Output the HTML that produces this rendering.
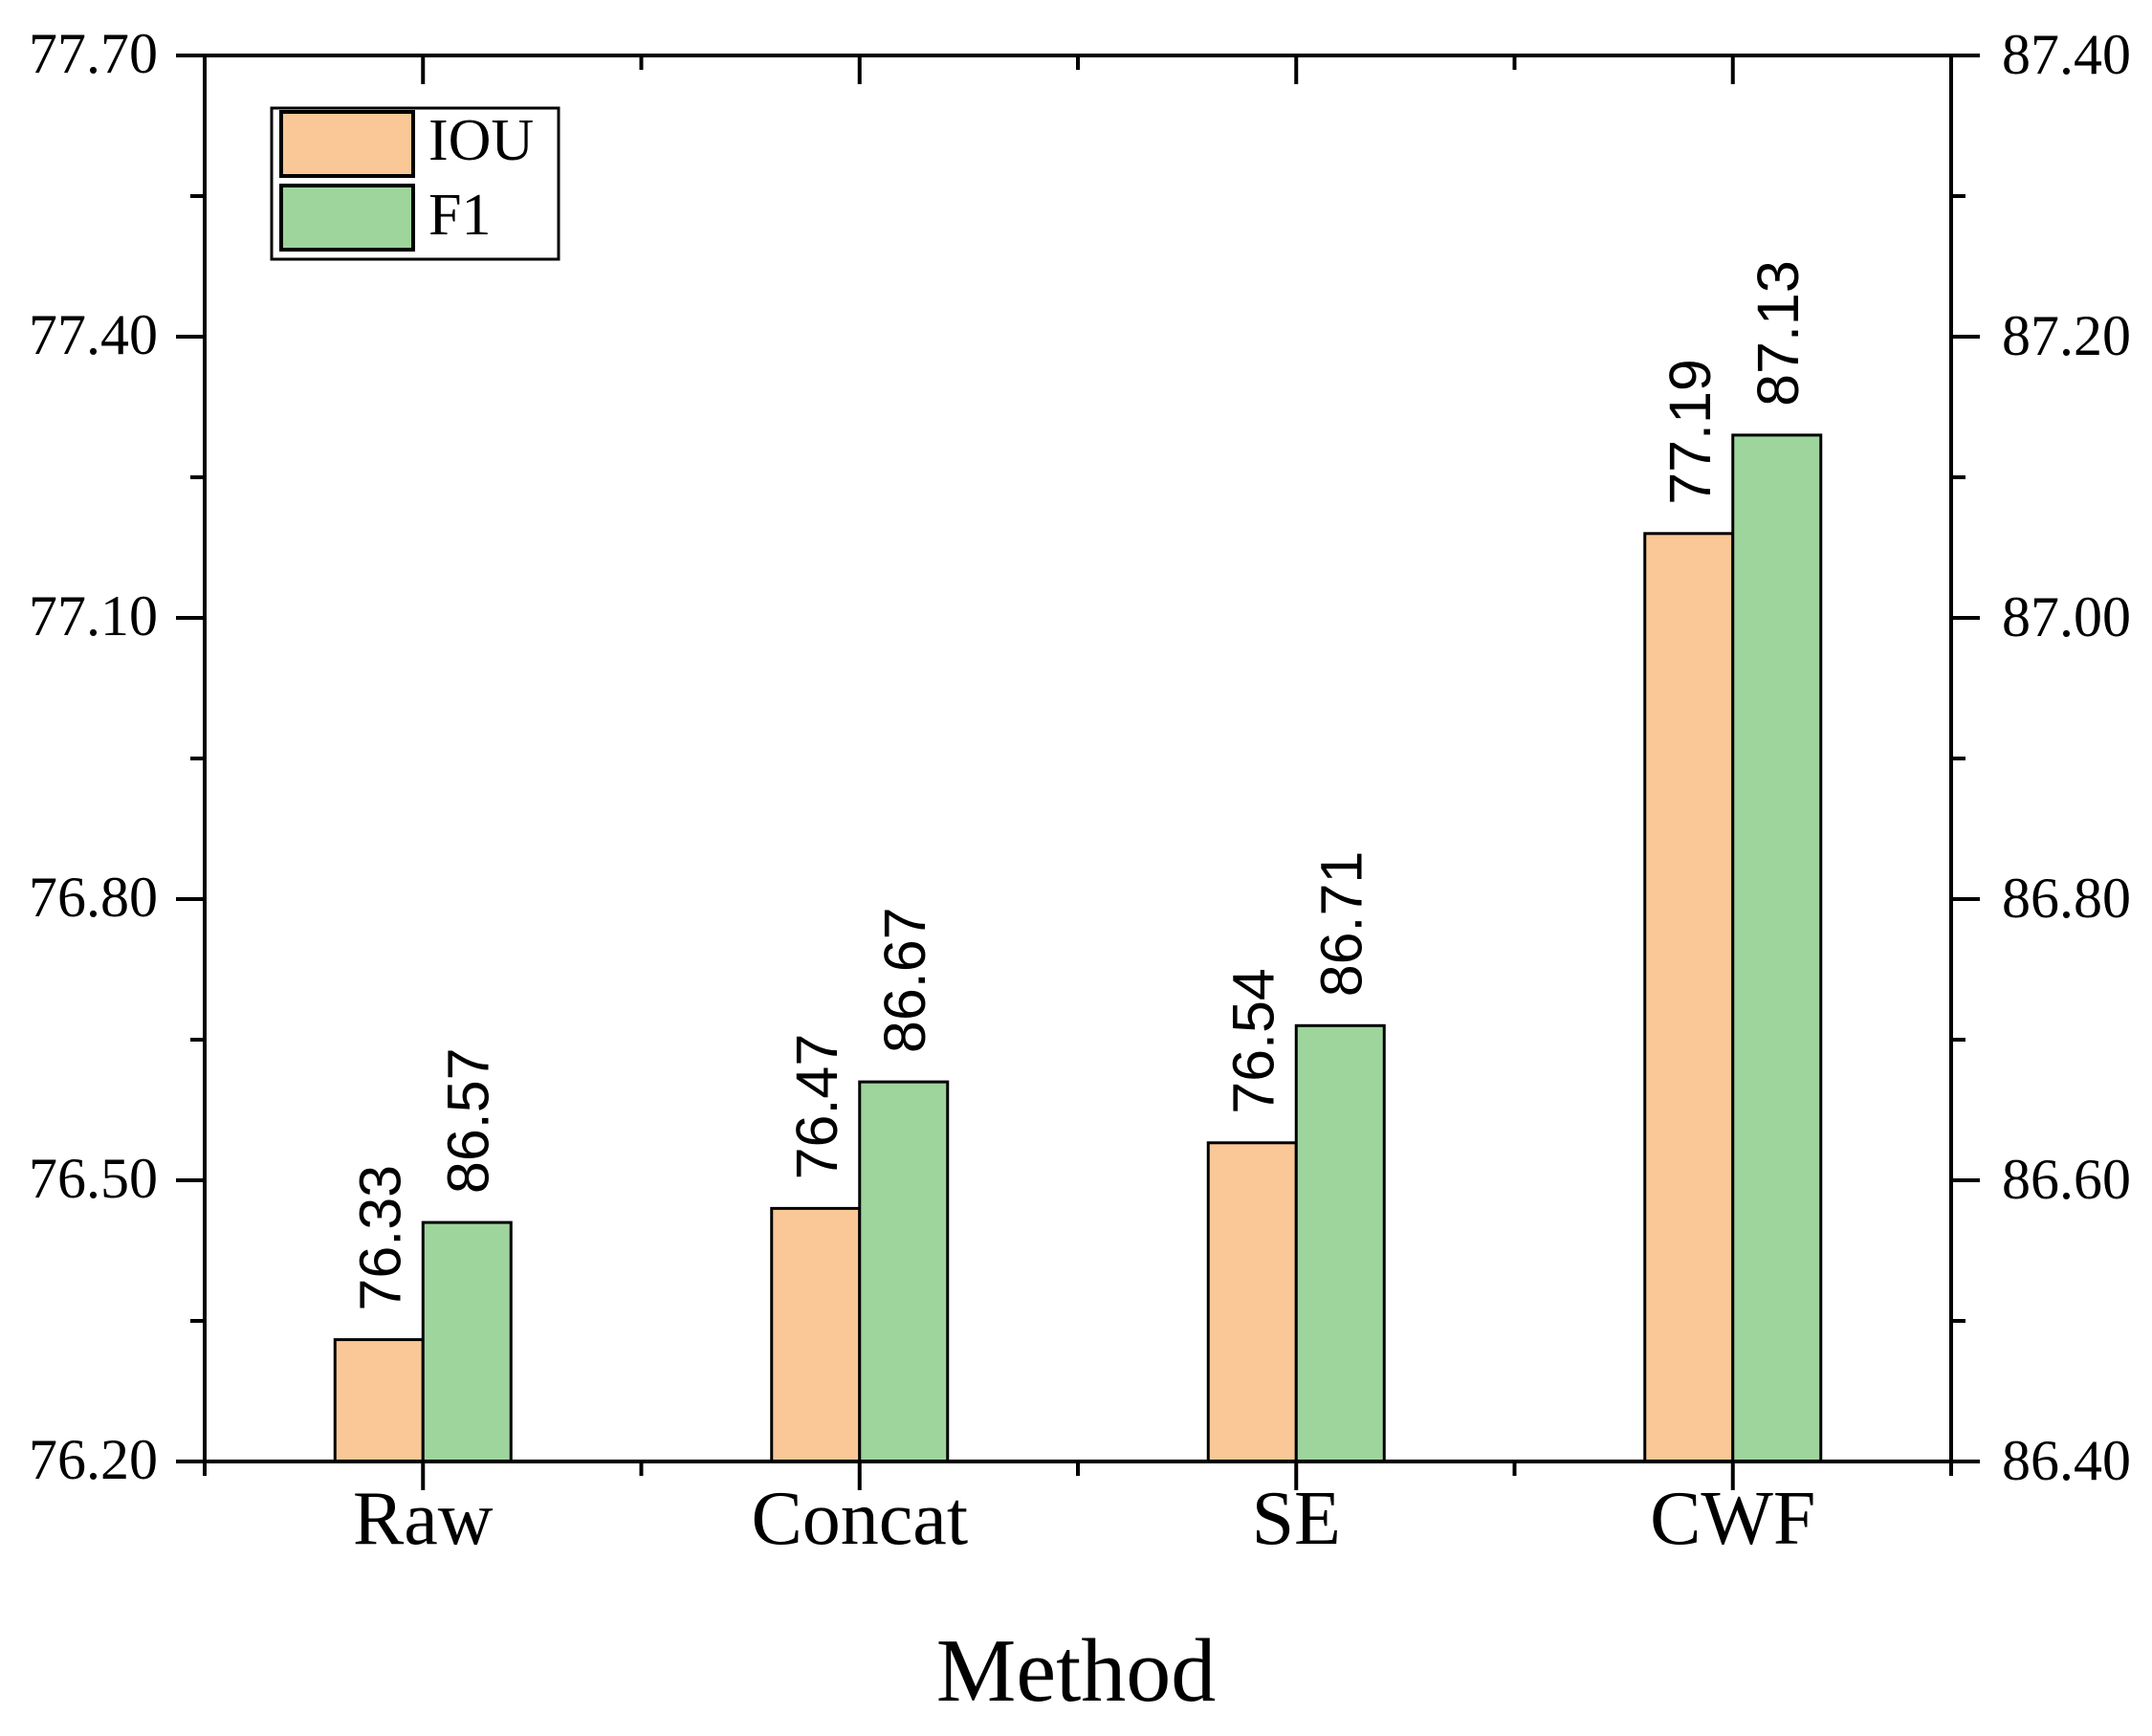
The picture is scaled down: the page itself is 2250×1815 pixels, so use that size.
<!DOCTYPE html>
<html><head><meta charset="utf-8"><style>
html,body{margin:0;padding:0;background:#fff;}
svg{display:block;}
</style></head><body>
<svg id="chart" width="2250" height="1815" xmlns="http://www.w3.org/2000/svg"></svg>
<script>
const categories = ["Raw", "Concat", "SE", "CWF"];
const iouValues = [76.33, 76.47, 76.54, 77.19];
const f1Values = [86.57, 86.67, 86.71, 87.13];
const leftTicks = [76.20, 76.50, 76.80, 77.10, 77.40, 77.70];
const rightTicks = [86.40, 86.60, 86.80, 87.00, 87.20, 87.40];

const NS = "http://www.w3.org/2000/svg";
const svg = document.getElementById("chart");
const X0 = 214, X1 = 2040, Y0 = 1528, Y1 = 58;
const LMIN = 76.2, LMAX = 77.7, RMIN = 86.4, RMAX = 87.4;
const step = (X1 - X0) / categories.length;
const BW = 92;
function yL(v){ return Y0 - (v - LMIN) / (LMAX - LMIN) * (Y0 - Y1); }
function yR(v){ return Y0 - (v - RMIN) / (RMAX - RMIN) * (Y0 - Y1); }
function xC(i){ return X0 + step * (i + 0.5); }
function mk(tag, attrs, parent){
  const e = document.createElementNS(NS, tag);
  for (const k in attrs) e.setAttribute(k, attrs[k]);
  (parent || svg).appendChild(e);
  return e;
}
const serif = '"Liberation Serif", serif';
const sans = '"Liberation Sans", sans-serif';
const LW = 4;

// bars
categories.forEach((c, i) => {
  const cx = xC(i);
  const yi = yL(iouValues[i]);
  const b1 = mk("rect", {x: cx - BW, y: yi, width: BW, height: Y0 - yi, fill: "#FAC896", stroke: "#000", "stroke-width": 3});
  
  
  const yf = yR(f1Values[i]);
  const b2 = mk("rect", {x: cx, y: yf, width: BW, height: Y0 - yf, fill: "#9ED59C", stroke: "#000", "stroke-width": 3});
  
  
  const t1 = mk("text", {transform: `translate(${cx - BW/2 + 22},${yi - 30}) rotate(-90)`, "font-family": sans, "font-size": 61, fill: "#000"});
  t1.textContent = iouValues[i].toFixed(2);
  
  
  const t2 = mk("text", {transform: `translate(${cx + BW/2 + 22},${yf - 30}) rotate(-90)`, "font-family": sans, "font-size": 61, fill: "#000"});
  t2.textContent = f1Values[i].toFixed(2);
  
  
  const cl = mk("text", {x: cx, y: 1614, "text-anchor": "middle", "font-family": serif, "font-size": 80, fill: "#000"});
  cl.textContent = c;
  
  
});

// axes frame
const frame = mk("rect", {x: X0, y: Y1, width: X1 - X0, height: Y0 - Y1, fill: "none", stroke: "#000", "stroke-width": LW});



// x ticks
categories.forEach((c, i) => {
  const cx = xC(i);
  mk("line", {x1: cx, y1: Y0, x2: cx, y2: Y0 + 30, stroke: "#000", "stroke-width": LW});
  mk("line", {x1: cx, y1: Y1, x2: cx, y2: Y1 + 30, stroke: "#000", "stroke-width": LW});
});
for (let i = 0; i <= categories.length; i++) {
  const x = X0 + step * i;
  mk("line", {x1: x, y1: Y0, x2: x, y2: Y0 + 15, stroke: "#000", "stroke-width": LW});
  mk("line", {x1: x, y1: Y1, x2: x, y2: Y1 + 15, stroke: "#000", "stroke-width": LW});
}

// y ticks
leftTicks.forEach((v, i) => {
  const y = yL(v);
  mk("line", {x1: X0 - 30, y1: y, x2: X0, y2: y, stroke: "#000", "stroke-width": LW});
  const t = mk("text", {x: 165, y: y + 18, "text-anchor": "end", "font-family": serif, "font-size": 60, fill: "#000"});
  t.textContent = v.toFixed(2);
  
  
  if (i < leftTicks.length - 1) {
    const ym = yL(v + 0.15);
    mk("line", {x1: X0 - 15, y1: ym, x2: X0, y2: ym, stroke: "#000", "stroke-width": LW});
  }
});
rightTicks.forEach((v, i) => {
  const y = yR(v);
  mk("line", {x1: X1, y1: y, x2: X1 + 30, y2: y, stroke: "#000", "stroke-width": LW});
  const t = mk("text", {x: 2093, y: y + 19, "text-anchor": "start", "font-family": serif, "font-size": 60, fill: "#000"});
  t.textContent = v.toFixed(2);
  
  
  if (i < rightTicks.length - 1) {
    const ym = yR(v + 0.1);
    mk("line", {x1: X1, y1: ym, x2: X1 + 15, y2: ym, stroke: "#000", "stroke-width": LW});
  }
});

// x title
const xt = mk("text", {x: 1125, y: 1778, "text-anchor": "middle", "font-family": serif, "font-size": 94, fill: "#000"});
xt.textContent = "Method";



// legend
const lg = mk("g", {});


mk("rect", {x: 284, y: 113, width: 300, height: 158, fill: "#fff", stroke: "#000", "stroke-width": 3}, lg);
const s1 = mk("rect", {x: 294, y: 117, width: 138, height: 67, fill: "#FAC896", stroke: "#000", "stroke-width": 4}, lg);


const s2 = mk("rect", {x: 294, y: 194, width: 138, height: 67, fill: "#9ED59C", stroke: "#000", "stroke-width": 4}, lg);


const l1 = mk("text", {x: 448, y: 167, "font-family": serif, "font-size": 62, fill: "#000"}, lg);
l1.textContent = "IOU";


const l2 = mk("text", {x: 448, y: 245, "font-family": serif, "font-size": 62, fill: "#000"}, lg);
l2.textContent = "F1";


</script>
</body></html>
